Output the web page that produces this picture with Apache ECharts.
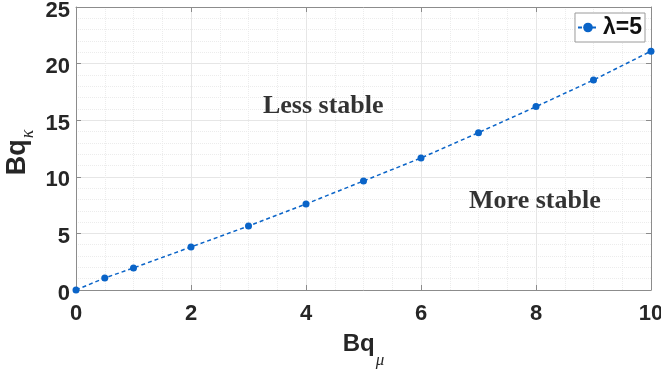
<!DOCTYPE html>
<html><head><meta charset="utf-8">
<script src="https://cdn.jsdelivr.net/npm/echarts@6/dist/echarts.min.js"></script>
<style>html,body{margin:0;padding:0;background:#fff}#c{width:661px;height:375px}</style>
</head><body><div id="c"></div>
<script>
const xValues = [0, 0.5, 1, 2, 3, 4, 5, 6, 7, 8, 9, 10];
const yValues = [0, 1.06, 1.95, 3.8, 5.65, 7.6, 9.63, 11.66, 13.9, 16.2, 18.55, 21.1];
const seriesName = 'λ=5';
const annotations = [
  {x: 4.3, y: 16.2, text: 'Less stable'},
  {x: 7.98, y: 7.86, text: 'More stable'}
];
const xTicks = {min: 0, max: 10, interval: 2};
const yTicks = {min: 0, max: 25, interval: 5};

const chart = echarts.init(document.getElementById('c'));
const axisCol = '#8c8c8c';
const tickLbl = {color: '#262626', fontFamily: 'Liberation Sans, Arial, sans-serif', fontWeight: 'bold', fontSize: 22};
function baseAxis(pos, t, minorN, showLabel, name) {
  return {
    type: 'value', position: pos, min: t.min, max: t.max, interval: t.interval,
    axisLine: {show: true, onZero: false, lineStyle: {color: axisCol, width: 1}},
    axisTick: {show: true, inside: true, length: 5, lineStyle: {color: axisCol}},
    axisLabel: Object.assign({show: showLabel, margin: 6}, tickLbl),
    splitLine: {show: showLabel, lineStyle: {color: '#e6e6e6', width: 1}},
    minorTick: {show: showLabel, splitNumber: minorN, length: 0},
    minorSplitLine: {show: showLabel, lineStyle: {color: '#ececec', type: [1, 1], width: 1}},
    name: name || '', nameLocation: 'middle'
  };
}
function nameRich(size, subSize, drop, tail) {
  return {rich: {
    a: {fontFamily: 'Liberation Sans, Arial', fontWeight: 'bold', fontSize: size, color: '#262626', verticalAlign: 'bottom', padding: [0, 1, drop, 0]},
    b: {fontFamily: 'Liberation Serif, Times New Roman', fontStyle: 'italic', fontSize: subSize, color: '#262626', verticalAlign: 'bottom', padding: [0, tail, 0, 0]}
  }};
}
const xa = baseAxis('bottom', xTicks, 4, true, '{a|Bq}{b|μ}');
xa.axisLabel.margin = 13;
xa.nameGap = 42;
xa.nameTextStyle = nameRich(24, 17, 13, 0);
const xb = baseAxis('top', xTicks, 4, false);
const ya = baseAxis('left', yTicks, 5, true, '{a|Bq}{b|κ}');
ya.axisLabel.formatter = '{v|{value}}';
ya.axisLabel.rich = {v: Object.assign({padding: [7, 0, 0, 0]}, tickLbl)};
ya.nameGap = 39;
ya.nameMoveOverlap = false;
ya.nameRotate = 90;
ya.nameTextStyle = nameRich(27, 18, 6, 8);
const yb = baseAxis('right', yTicks, 5, false);

chart.setOption({
  animation: false,
  backgroundColor: '#fff',
  grid: {left: 76, right: 10, top: 7, bottom: 85, show: false, containLabel: false, outerBoundsMode: 'none'},
  xAxis: [xa, xb],
  yAxis: [ya, yb],
  legend: {
    show: true, right: 16, top: 13, orient: 'vertical',
    backgroundColor: '#fff', borderColor: '#9a9a9a', borderWidth: 1, borderRadius: 0,
    padding: [3, 3, 3, 2], itemWidth: 20, itemHeight: 12, itemGap: 0,
    textStyle: {fontFamily: 'Liberation Sans, Arial', fontWeight: 'bold', fontSize: 23, color: '#111'},
    data: [seriesName]
  },
  series: [
    {
      name: seriesName, type: 'line',
      data: xValues.map((x, i) => [x, yValues[i]]),
      symbol: 'circle', symbolSize: 7,
      lineStyle: {color: '#0a64c8', width: 1.5, type: [4, 3]},
      itemStyle: {color: '#0a64c8'},
      z: 5
    },
    {
      type: 'scatter', symbolSize: 0, silent: true,
      data: annotations.map(a => ({value: [a.x, a.y], label: {formatter: a.text}})),
      label: {show: true, position: 'inside', fontFamily: 'Liberation Serif, Times New Roman', fontWeight: 'bold', fontSize: 26, color: '#000'}
    }
  ]
});
</script></body></html>
